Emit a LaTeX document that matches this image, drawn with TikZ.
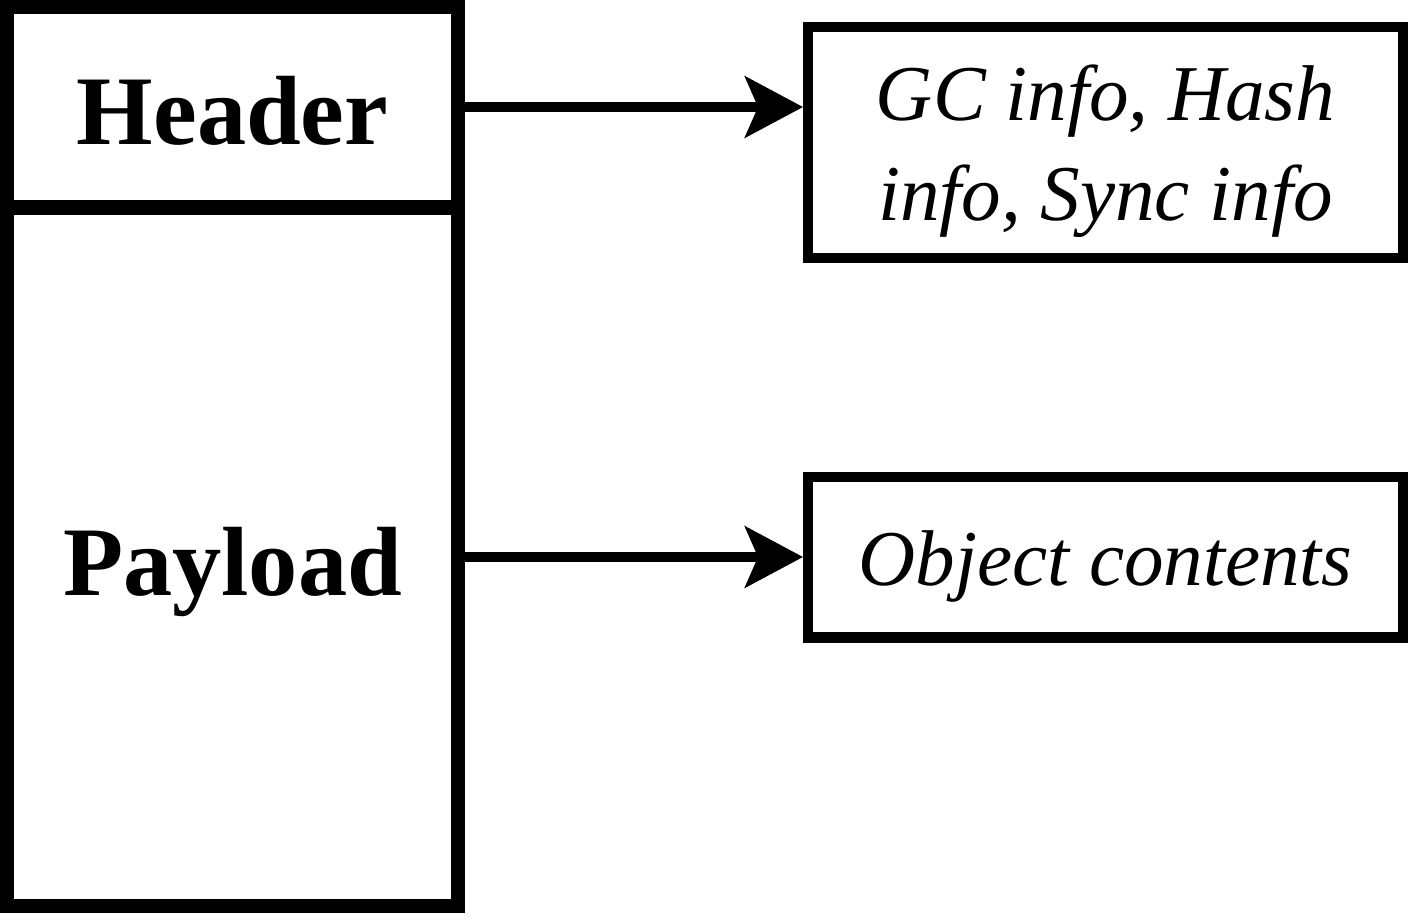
\documentclass[tikz,border=0pt]{standalone}
\usepackage{fontspec}
\setmainfont{Liberation Serif}
\usepackage{tikz}
\usetikzlibrary{positioning,arrows.meta}
\tikzset{
  flowarrow/.style={-{Stealth[length=1.16cm, width=1.22cm, inset=0.26cm]}, line width=5.7pt},
  cellbox/.style={draw, line width=8pt, minimum width=9.02cm, font=\fontsize{56}{60}\selectfont\bfseries, inner sep=0pt},
  infobox/.style={draw, line width=5.7pt, minimum width=11.9cm, font=\fontsize{45}{57}\selectfont\itshape, align=center, inner sep=0pt}
}
\begin{document}
\begin{tikzpicture}[x=0.02cm, y=-0.02cm]
  \useasboundingbox (0,0) rectangle (1415,920);
  \node[cellbox, minimum height=4cm, text height=1.52cm, text depth=0pt] (header) at (232.5,107) {Header};
  \node[cellbox, minimum height=13.96cm, text height=1.9cm, text depth=0.38cm] (payload) at (232.5,557) {Payload};
  \node[infobox, minimum height=4.62cm, text depth=0pt] (info) at (1105.5,142.5) {GC info, Hash\\info, Sync info};
  \node[infobox, minimum height=3.22cm, text height=1.46cm, text depth=0.34cm] (contents) at (1105.5,557) {Object contents};
  \draw[flowarrow] (header.east) -- (header.east -| info.west);
  \draw[flowarrow] (payload.east) -- (contents.west);
\end{tikzpicture}
\end{document}
